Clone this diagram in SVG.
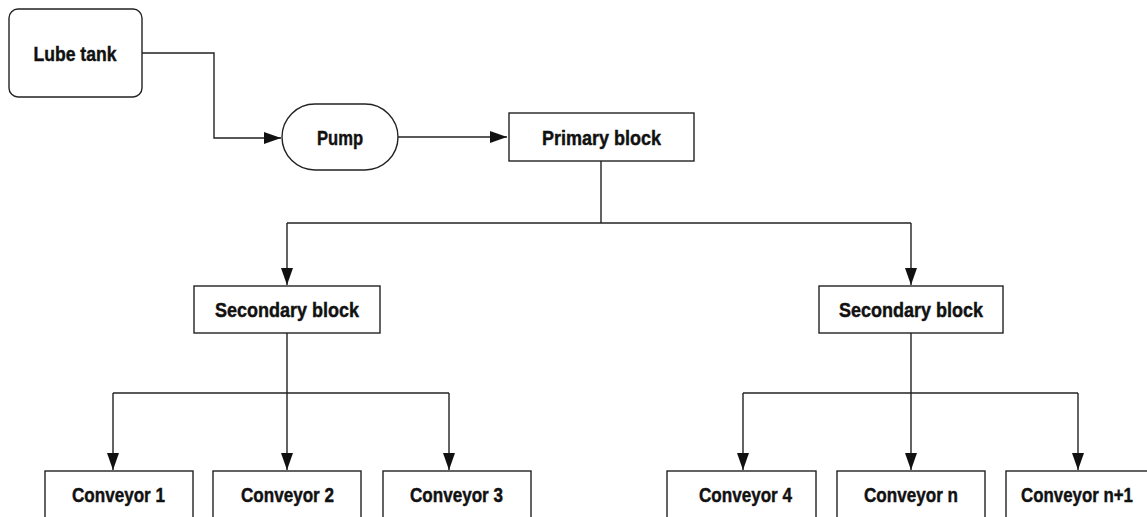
<svg xmlns="http://www.w3.org/2000/svg" width="1147" height="517" viewBox="0 0 1147 517">
<style>
.box{fill:#fff;stroke:#222;stroke-width:1.4}
.lbl{font-family:"Liberation Sans Narrow","Liberation Sans",Arial,sans-serif;font-weight:bold;font-size:21px;fill:#111;stroke:#111;stroke-width:0.45;text-anchor:middle}
.wire{fill:none;stroke:#222;stroke-width:1.4}
</style>
<defs>
<marker id="ah" markerUnits="userSpaceOnUse" markerWidth="17" markerHeight="12" refX="17" refY="6" orient="auto">
<path d="M0,0 L17,6 L0,12 z" fill="#111"/>
</marker>
</defs>
<rect width="1147" height="517" fill="#fff"/>
<g id="connectors">
<path class="wire" d="M142,53 H214 V138 H281" marker-end="url(#ah)"/>
<path class="wire" d="M398,137 H507" marker-end="url(#ah)"/>
<path class="wire" d="M601,161 V223"/>
<path class="wire" d="M287,223 H911"/>
<path class="wire" d="M287,223 V285" marker-end="url(#ah)"/>
<path class="wire" d="M911,223 V285" marker-end="url(#ah)"/>
<path class="wire" d="M287,333 V470" marker-end="url(#ah)"/>
<path class="wire" d="M113,393 H449"/>
<path class="wire" d="M113,393 V470" marker-end="url(#ah)"/>
<path class="wire" d="M449,393 V470" marker-end="url(#ah)"/>
<path class="wire" d="M911,333 V470" marker-end="url(#ah)"/>
<path class="wire" d="M743,393 H1078"/>
<path class="wire" d="M743,393 V470" marker-end="url(#ah)"/>
<path class="wire" d="M1078,393 V470" marker-end="url(#ah)"/>
</g>
<g id="lube-tank"><rect class="box" x="9" y="9" width="133" height="88" rx="9"/><text class="lbl" x="75" y="61" textLength="83" lengthAdjust="spacingAndGlyphs">Lube tank</text></g>
<g id="pump"><rect class="box" x="282" y="104" width="116" height="66" rx="33"/><text class="lbl" x="340" y="145" textLength="46" lengthAdjust="spacingAndGlyphs">Pump</text></g>
<g id="primary-block"><rect class="box" x="509" y="113" width="185" height="48"/><text class="lbl" x="601.5" y="145" textLength="119" lengthAdjust="spacingAndGlyphs">Primary block</text></g>
<g id="secondary-block-1"><rect class="box" x="194" y="286" width="186" height="47"/><text class="lbl" x="287" y="317" textLength="144" lengthAdjust="spacingAndGlyphs">Secondary block</text></g>
<g id="secondary-block-2"><rect class="box" x="819" y="286" width="184" height="47"/><text class="lbl" x="911" y="317" textLength="144" lengthAdjust="spacingAndGlyphs">Secondary block</text></g>
<g id="conveyor-1"><rect class="box" x="45" y="471" width="148" height="52"/><text class="lbl" x="118.5" y="502" textLength="93" lengthAdjust="spacingAndGlyphs">Conveyor 1</text></g>
<g id="conveyor-2"><rect class="box" x="213" y="471" width="148" height="52"/><text class="lbl" x="287.5" y="502" textLength="93" lengthAdjust="spacingAndGlyphs">Conveyor 2</text></g>
<g id="conveyor-3"><rect class="box" x="383" y="471" width="148" height="52"/><text class="lbl" x="456.5" y="502" textLength="93" lengthAdjust="spacingAndGlyphs">Conveyor 3</text></g>
<g id="conveyor-4"><rect class="box" x="667" y="471" width="149" height="52"/><text class="lbl" x="745.5" y="502" textLength="93" lengthAdjust="spacingAndGlyphs">Conveyor 4</text></g>
<g id="conveyor-n"><rect class="box" x="837" y="471" width="148" height="52"/><text class="lbl" x="911" y="502" textLength="94" lengthAdjust="spacingAndGlyphs">Conveyor n</text></g>
<g id="conveyor-n1"><rect class="box" x="1006" y="471" width="150" height="52"/><text class="lbl" x="1077" y="502" textLength="112" lengthAdjust="spacingAndGlyphs">Conveyor n+1</text></g>
</svg>
